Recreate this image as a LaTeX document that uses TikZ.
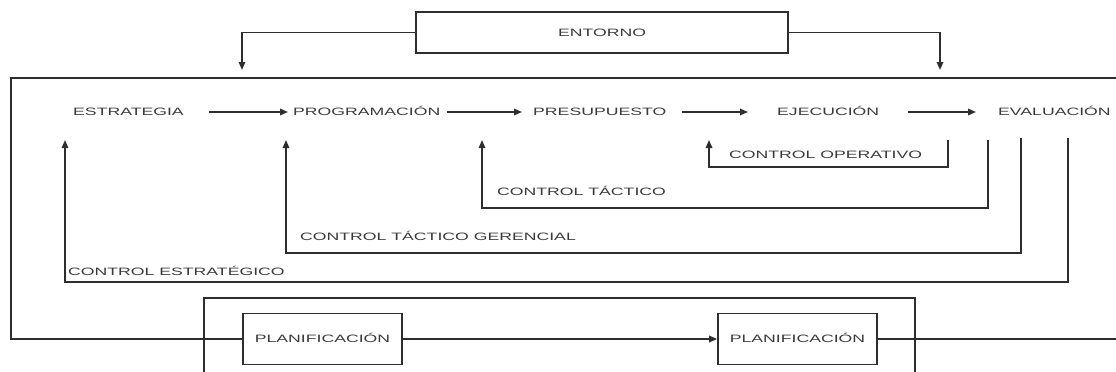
\documentclass[tikz,border=0pt]{standalone}
\usepackage{fontspec}
\newfontfamily\labfont[FakeStretch=1.65]{Liberation Sans}
\usetikzlibrary{arrows.meta}
\definecolor{ink}{HTML}{2E2E2E}
\definecolor{txt}{HTML}{3A3A3A}
\begin{document}
\begin{tikzpicture}[x=1pt,y=-1pt,
  every node/.style={font=\labfont\fontsize{10.7}{12}\selectfont, text=txt},
  lab/.style={inner sep=0pt, text height=7.7pt, text depth=0pt, anchor=west},
  box/.style={draw=ink, line width=1.6pt, inner sep=0pt, text height=7.7pt, text depth=0pt},
  wire/.style={draw=ink, line width=1.6pt},
  arr/.style={wire, -{Triangle[length=8pt,width=6.5pt]}}]
\useasboundingbox (0,0) rectangle (1116,372);

% environment box and its two inputs
\node[box, minimum width=372pt, minimum height=41pt] (ent) at (602,32.5) {ENTORNO};
\coordinate (entL) at (242,70);
\coordinate (entR) at (940,70);
\draw[arr] (ent.west) -| (entL);
\draw[arr] (ent.east) -| (entR);

% planning boxes
\node[box, minimum width=159pt, minimum height=51pt] (plan1) at (322.5,339) {PLANIFICACIÓN};
\node[box, minimum width=159pt, minimum height=51pt] (plan2) at (797.5,339) {PLANIFICACIÓN};
\draw[arr] (plan1.east) -- (plan2.west);

% outer frame, open at the right
\coordinate (frTR) at (1116,78);
\coordinate (frTL) at (11,78);
\coordinate (frBL) at (11,339);
\coordinate (frBR) at (1116,339);
\draw[wire] (frTR) -- (frTL) -- (frBL) -- (plan1.west);
\draw[wire] (plan2.east) -- (frBR);

% inner frame around the planning line
\coordinate (ifL) at (204,372);
\coordinate (ifR) at (915,372);
\draw[wire] (ifL) -- (204,298) -- (915,298) -- (ifR);

% process chain
\node[lab] (est)  at (73,112)  {ESTRATEGIA};
\node[lab] (prog) at (293,112) {PROGRAMACIÓN};
\node[lab] (pres) at (533,112) {PRESUPUESTO};
\node[lab] (ejec) at (777,112) {EJECUCIÓN};
\node[lab] (eval) at (998,112) {EVALUACIÓN};
\draw[arr, shorten <=25pt, shorten >=5pt]  (est.east)  -- (prog.west);
\draw[arr, shorten <=6pt,  shorten >=11pt] (prog.east) -- (pres.west);
\draw[arr, shorten <=15pt, shorten >=29pt] (pres.east) -- (ejec.west);
\draw[arr, shorten <=29pt, shorten >=22pt] (ejec.east) -- (eval.west);

% feedback loops
\coordinate (opS) at (948,140);  \coordinate (opT) at (709,140);
\coordinate (taS) at (988,140);  \coordinate (taT) at (482,140);
\coordinate (geS) at (1021,138); \coordinate (geT) at (286,140);
\coordinate (esS) at (1068,138); \coordinate (esT) at (65,140);
\draw[arr] (opS) -- (948,167) -| (opT);
\draw[arr] (taS) -- (988,208) -| (taT);
\draw[arr] (geS) -- (1021,253) -| (geT);
\draw[arr] (esS) -- (1068,282) -| (esT);
\node[lab] (opL) at (729,155) {CONTROL OPERATIVO};
\node[lab] (taL) at (497,192) {CONTROL TÁCTICO};
\node[lab] (geL) at (300,237) {CONTROL TÁCTICO GERENCIAL};
\node[lab] (esL) at (68,272)  {CONTROL ESTRATÉGICO};
\end{tikzpicture}
\end{document}
